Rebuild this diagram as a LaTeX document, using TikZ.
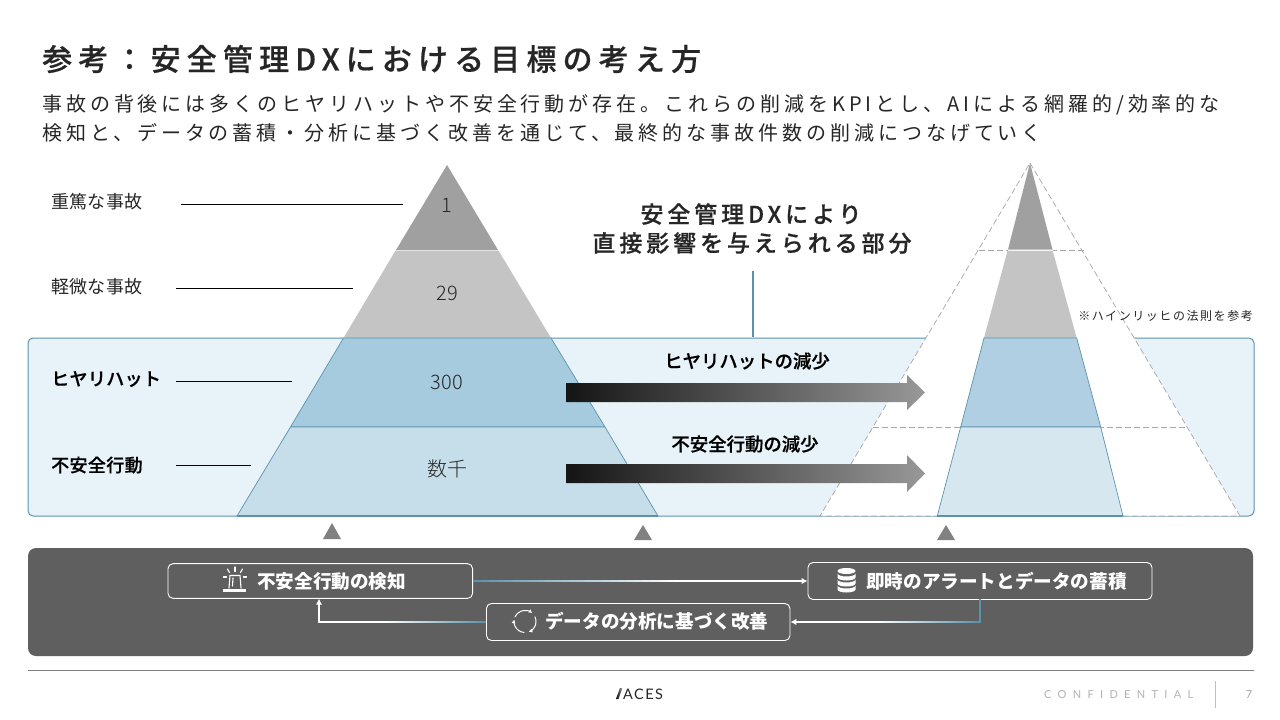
\documentclass[tikz,border=0pt]{standalone}
\usepackage{fontspec}
\usetikzlibrary{calc,arrows.meta}
\setmainfont{Noto Sans CJK JP}
\newfontfamily\jp{Noto Sans CJK JP}
\newfontfamily\jpl{Noto Sans CJK JP Light}
\newfontfamily\jpTitle[LetterSpace=20.5,FakeBold=0.6]{Noto Sans CJK JP Medium}
\newfontfamily\jpSub[LetterSpace=19.7]{Noto Sans CJK JP}
\newfontfamily\jpHead[LetterSpace=17,FakeBold=0.6]{Noto Sans CJK JP Medium}
\newfontfamily\jpNote[LetterSpace=13]{Noto Sans CJK JP}
\newfontfamily\jpLab[LetterSpace=2]{Noto Sans CJK JP}
\newfontfamily\jpSemi[LetterSpace=2,FakeBold=0.6]{Noto Sans CJK JP Medium}
\newfontfamily\jpRed[FakeBold=0.6]{Noto Sans CJK JP Medium}
\newfontfamily\conf[LetterSpace=57.5]{Lato}
\newfontfamily\logo[LetterSpace=10]{Lato}
\definecolor{ink}{HTML}{262626}
\definecolor{edgeblue}{HTML}{5B93AB}
\definecolor{panelblue}{HTML}{E8F3F9}
\definecolor{dark}{HTML}{5F5F5F}
\definecolor{tiera}{HTML}{A0A0A0}
\definecolor{tierb}{HTML}{C4C4C4}
\definecolor{tierc}{HTML}{A6CBDE}
\definecolor{tierd}{HTML}{C6DEEA}
\definecolor{tierC}{HTML}{B0CFE2}
\definecolor{tierD}{HTML}{D6E7F0}
\definecolor{dashgray}{HTML}{A6A6A6}
\newcommand{\fadeline}[2]{%
  \foreach \i in {0,...,24}{%
    \pgfmathsetmacro{\fa}{\i/25}%
    \pgfmathsetmacro{\fp}{100-4*\i}%
    \draw[edgeblue!\fp!white,line width=2pt] ($(#1)!\fa!(#2)$) -- (#2);
  }%
}
\tikzset{
  x=1pt,y=-1pt,
  lab/.style={font=\jpLab\fontsize{18}{18}\selectfont,text=ink,inner sep=0pt,anchor=west},
  labb/.style={font=\jpSemi\fontsize{18}{18}\selectfont,text=black,inner sep=0pt,anchor=west},
  num/.style={font=\jpl\fontsize{20}{20}\selectfont,text=ink,inner sep=0pt},
  leader/.style={draw=black,line width=0.8pt},
  flow/.style={draw=white,line width=2pt,fill=none,-{Latex[length=6pt,width=6.5pt]}},
  flowbox/.style={draw=white,line width=0.9pt,rounded corners=5pt,text=white,inner sep=0pt},
  flowtext/.style={font=\jp\bfseries\fontsize{18.6}{19}\selectfont,text=white,inner sep=0pt,anchor=west},
  reduce/.style={font=\jpRed\fontsize{18.4}{18}\selectfont,text=black,inner sep=0pt},
  bigarrow/.style={left color=black!92,right color=tiera!95!black},
  upmark/.style={fill=gray!90!black!90,draw=none},
  dashline/.style={dashgray,line width=0.7pt,dash pattern=on 6pt off 3pt},
}
\begin{document}
\begin{tikzpicture}
\useasboundingbox (0,0) rectangle (1280,720);
\fill[white] (0,0) rectangle (1280,720);
% title
\node[inner sep=0pt,anchor=west,font=\jpTitle\fontsize{30}{30}\selectfont,text=ink] (title) at (42,59) {参考：安全管理DXにおける目標の考え方};
\node[inner sep=0pt,anchor=west,font=\jpSub\fontsize{20}{20}\selectfont,text=ink] (sub1) at (42,105) {事故の背後には多くのヒヤリハットや不安全行動が存在。これらの削減をKPIとし、AIによる網羅的/効率的な};
\node[inner sep=0pt,anchor=west,font=\jpSub\fontsize{20}{20}\selectfont,text=ink] (sub2) at (42,133) {検知と、データの蓄積・分析に基づく改善を通じて、最終的な事故件数の削減につなげていく};
% panel
\draw[fill=panelblue,draw=edgeblue,line width=1pt,rounded corners=5pt] (28,338) rectangle (1254,516);
% left pyramid
\fill[tiera] (447,165) -- (498,250) -- (396,250) -- cycle;
\fill[tierb] (395.5,250.6) -- (498.5,250.6) -- (551,338) -- (343.5,338) -- cycle;
\filldraw[fill=tierc,draw=edgeblue,line width=0.7pt] (343.5,338) -- (551,338) -- (605,427) -- (290.5,427) -- cycle;
\filldraw[fill=tierd,draw=edgeblue,line width=0.7pt] (290.5,427) -- (605,427) -- (658,516) -- (237,516) -- cycle;
\draw[edgeblue,line width=1.2pt] (237,516) -- (658,516);
% right pyramid
\fill[white] (1030,163) -- (1240,516) -- (820,516) -- cycle;
\draw[dashline] (1030,163) -- (1240,516) -- (820,516) -- cycle;
\draw[dashline] (979,250) -- (1084,250);
\draw[dashline] (873,427) -- (1188,427);
\fill[tiera] (1030,163) -- (1052.5,249.5) -- (1008,249.5) -- cycle;
\draw[white,line width=0.8pt] (1008,250.2) -- (1052.5,250.2);
\fill[tierb] (1007.5,250.8) -- (1052.7,250.8) -- (1076.7,338) -- (984,338) -- cycle;
\filldraw[fill=tierC,draw=edgeblue,line width=0.7pt] (984,338) -- (1076.7,338) -- (1100.7,427) -- (960.7,427) -- cycle;
\filldraw[fill=tierD,draw=edgeblue,line width=0.7pt] (960.7,427) -- (1100.7,427) -- (1123,516) -- (937.3,516) -- cycle;
\draw[edgeblue,line width=1.2pt] (937.3,516) -- (1123,516);
% pyramid labels
\node[num] (n1) at (447,205) {1};
\node[num] (n29) at (447,293) {29};
\node[num] (n300) at (447,382) {300};
\node[num] (nk) at (447,469) {数千};
% left labels and leaders
\node[lab] (l1) at (51,202) {重篤な事故};
\node[lab] (l2) at (51,287) {軽微な事故};
\node[labb] (l3) at (51,379) {ヒヤリハット};
\node[labb] (l4) at (51,465) {不安全行動};
\coordinate (a1) at (181,204); \coordinate (b1) at (403,204);
\coordinate (a2) at (176,288); \coordinate (b2) at (353,288);
\coordinate (a3) at (176,381); \coordinate (b3) at (292,381);
\coordinate (a4) at (176,465); \coordinate (b4) at (251,465);
\draw[leader] (a1) -- (b1);
\draw[leader] (a2) -- (b2);
\draw[leader] (a3) -- (b3);
\draw[leader] (a4) -- (b4);
% centre heading
\node[inner sep=0pt,font=\jpHead\fontsize{23}{23}\selectfont,text=ink] (h1) at (751,214) {安全管理DXにより};
\node[inner sep=0pt,font=\jpHead\fontsize{23}{23}\selectfont,text=ink] (h2) at (752,243) {直接影響を与えられる部分};
\coordinate (va) at (753,271); \coordinate (vb) at (753,337);
\draw[edgeblue,line width=1.2pt] (va) -- (vb);
\node[inner sep=0pt,font=\jpNote\fontsize{12}{12}\selectfont,text=ink,anchor=east] (note) at (1253,316) {※ハインリッヒの法則を参考};
% reduce arrows
\node[reduce] (r1) at (747,361) {ヒヤリハットの減少};
\node[reduce] (r2) at (745,444) {不安全行動の減少};
\shade[bigarrow] (566,383) -- (907,383) -- (907,375) -- (925,392.5) -- (907,410) -- (907,402) -- (566,402) -- cycle;
\shade[bigarrow] (566,464) -- (907,464) -- (907,455) -- (925,473.5) -- (907,492) -- (907,483) -- (566,483) -- cycle;
% up marks
\fill[upmark] (332,523) -- (341,539) -- (323,539) -- cycle;
\fill[upmark] (643,525) -- (652,540) -- (634,540) -- cycle;
\fill[upmark] (946,525) -- (955,540) -- (937,540) -- cycle;
% dark panel
\fill[dark,rounded corners=8pt] (28,548) rectangle (1253,656);
% flow boxes
\node[flowbox,minimum width=304.6pt,minimum height=34.7pt] (detect) at (320.3,581) {};
\node[flowbox,minimum width=344pt,minimum height=37pt] (alert) at (980,581) {};
\node[flowbox,minimum width=303.5pt,minimum height=37pt] (improve) at (638.2,622) {};
\node[flowtext] (t1) at (257,581) {不安全行動の検知};
\node[flowtext] (t2) at (866,581) {即時のアラートとデータの蓄積};
\node[flowtext] (t3) at (545,621) {データの分析に基づく改善};
% connectors: white with a blue fade overlaid at the start
\coordinate (c2) at (alert.south |- improve.east);
\coordinate (d3) at (319,598.7);
\coordinate (c3) at (d3 |- improve.west);
\coordinate (e1) at ($(detect.east)!0.6!(alert.west)$);
\coordinate (e2) at ($(c2)+(-100,0)$);
\coordinate (e3) at ($(improve.west)+(-98,0)$);
\draw[flow] (detect.east) -- (alert.west);
\draw[flow] (alert.south) -- (c2) -- (improve.east);
\draw[flow] (improve.west) -- (c3) -- (d3);
\fadeline{detect.east}{e1}
\draw[edgeblue,line width=2pt,line cap=rect] (alert.south) -- (c2);
\fadeline{c2}{e2}
\fadeline{improve.west}{e3}
% icon: siren
\begin{scope}[white,line width=1.1pt,line cap=round]
\fill (223,588.5) rectangle (246,592);
\draw (229,588) -- (230,575.5) -- (240,575.5) -- (241,588);
\draw (232.5,586) -- (233,578);
\draw (235,567) -- (235,571.5);
\draw (227.5,569) -- (229.5,572.5);
\draw (242.5,569) -- (240.5,572.5);
\draw (223.5,577) -- (226.5,577);
\draw (243.5,577) -- (246.5,577);
\end{scope}
% icon: database
\begin{scope}
\fill[white] (846.5,571) ellipse (9pt and 3pt);
\fill[white] (837.5,573.5) -- (837.5,577.5) arc (180:0:9pt and -3pt) -- (855.5,573.5) arc (0:180:9pt and -3pt) -- cycle;
\fill[white] (837.5,579.5) -- (837.5,583.5) arc (180:0:9pt and -3pt) -- (855.5,579.5) arc (0:180:9pt and -3pt) -- cycle;
\fill[white] (837.5,585.5) -- (837.5,589.5) arc (180:0:9pt and -3pt) -- (855.5,585.5) arc (0:180:9pt and -3pt) -- cycle;
\end{scope}
% icon: cycle
\coordinate (cyc) at (525,621.5);
\begin{scope}[white,line width=1pt,line cap=round,-{Latex[length=3.5pt,width=4pt]}]
\draw ($(cyc)+(155:11pt)$) arc[start angle=155,end angle=50,radius=11pt];
\draw ($(cyc)+(25:11pt)$) arc[start angle=25,end angle=-70,radius=11pt];
\draw ($(cyc)+(-95:11pt)$) arc[start angle=-95,end angle=-190,radius=11pt];
\end{scope}
% footer
\draw[gray,line width=0.9pt] (28,670) -- (1254,670);
\shade[left color=black,right color=gray!60] (616,699) -- (620,688) -- (622.5,688) -- (618.5,699) -- cycle;
\node[inner sep=0pt,anchor=west,font=\logo\fontsize{14.5}{14}\selectfont,text=ink] (logo) at (623,694.5) {ACES};
\node[inner sep=0pt,anchor=west,font=\conf\fontsize{11}{11}\selectfont,text=gray!60] (conf) at (1044,695) {CONFIDENTIAL};
\draw[gray!50,line width=0.8pt] (1215,681) -- (1215,708);
\node[inner sep=0pt,font=\logo\fontsize{11}{11}\selectfont,text=gray!70] (page) at (1249,695) {7};
\end{tikzpicture}
\end{document}
